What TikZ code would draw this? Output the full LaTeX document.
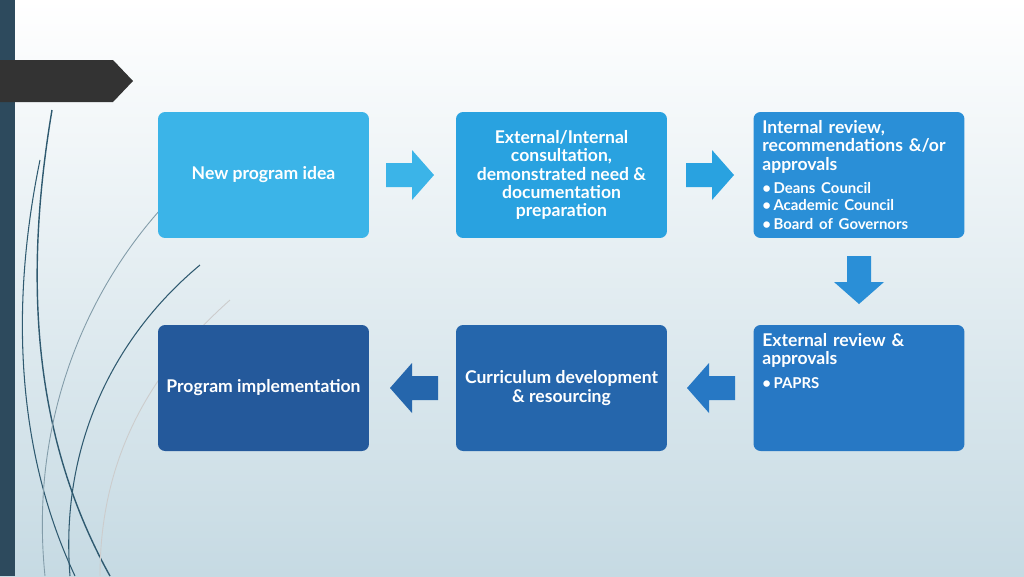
\documentclass[tikz,border=0pt]{standalone}
\usepackage{fontspec}
\setmainfont{Lato}
\definecolor{bgtop}{HTML}{FFFFFF}
\definecolor{bgbot}{HTML}{C6DAE3}
\definecolor{cA}{HTML}{3BB4E8}
\definecolor{cB}{HTML}{29A2E0}
\definecolor{cC}{HTML}{2A8FD7}
\definecolor{cD}{HTML}{2778C4}
\definecolor{cE}{HTML}{2566AC}
\definecolor{cF}{HTML}{24599B}
\definecolor{barcol}{HTML}{2D4A5D}
\definecolor{tabcol}{HTML}{333333}
\definecolor{curve}{HTML}{2F5A70}
\tikzset{
  stepbox/.style={rounded corners=4pt, minimum width=4.22cm, minimum height=2.52cm,
    inner sep=0pt},
  steptext/.style={text=white, font=\bfseries\fontsize{10}{10.5}\selectfont, align=center},
  sidetext/.style={steptext, align=left, anchor=north west, text width=3.9cm, inner sep=0pt},
  blockarrow/.pic={\fill (-24,-12) -- (2,-12) -- (2,-25) -- (24,0) -- (2,25) -- (2,12) -- (-24,12) -- cycle;}
}
\begin{document}
\begin{tikzpicture}[x=0.02cm, y=-0.02cm]
  \shade[top color=bgtop, bottom color=bgbot] (0,0) rectangle (1024,576);
  \useasboundingbox (0,0) rectangle (1024,576);
  \fill[barcol] (0,0) rectangle (15,576);
  \fill[tabcol] (0,60) -- (113,60) -- (133,81) -- (113,102) -- (0,102) -- cycle;
  % decorative curves
  \draw[curve, line width=0.8pt] (52,110) .. controls (20,300) and (40,450) .. (110,576);
  \draw[curve, line width=0.6pt] (40,160) .. controls (5,330) and (25,470) .. (75,576);
  \draw[curve, line width=0.6pt] (200,265) .. controls (110,340) and (60,450) .. (70,576);
  \draw[curve!60, line width=0.5pt] (160,210) .. controls (80,300) and (30,430) .. (45,576);
  \draw[gray!40, line width=0.5pt] (230,300) .. controls (140,380) and (100,470) .. (100,576);
  % boxes
  \node[stepbox, fill=cA] (idea) at (263.5,175) {};
  \node[stepbox, fill=cB] (consult) at (561.5,175) {};
  \node[stepbox, fill=cC] (internal) at (859,175) {};
  \node[stepbox, fill=cD] (external) at (859,388) {};
  \node[stepbox, fill=cE] (curric) at (561.5,388) {};
  \node[stepbox, fill=cF] (impl) at (263.5,388) {};
  % texts
  \node[steptext] (ideatxt) at (idea) {New program idea};
  \node[steptext] (consulttxt) at (consult) {External/Internal\\consultation,\\demonstrated need \&\\documentation\\preparation};
  \node[sidetext] (internaltxt) at (762,120) {Internal review,\\recommendations \&/or\\approvals\\[3pt]
     {\fontsize{8.5}{10}\selectfont \textbullet\,Deans Council\\\textbullet\,Academic Council\\\textbullet\,Board of Governors}};
  \node[sidetext] (externaltxt) at (762,333) {External review \&\\approvals\\[3pt]
     {\fontsize{8.5}{10}\selectfont \textbullet\,PAPRS}};
  \node[steptext] (currictxt) at (curric) {Curriculum development\\\& resourcing};
  \node[steptext] (impltxt) at (impl) {Program implementation};
  % arrows
  \pic[fill=cA] at (410,175) {blockarrow};
  \pic[fill=cB] at (710,175) {blockarrow};
  \pic[fill=cC, rotate=-90] at (859,280) {blockarrow};
  \pic[fill=cD, rotate=180] at (711,388) {blockarrow};
  \pic[fill=cE, rotate=180] at (414,388) {blockarrow};
\end{tikzpicture}
\end{document}
